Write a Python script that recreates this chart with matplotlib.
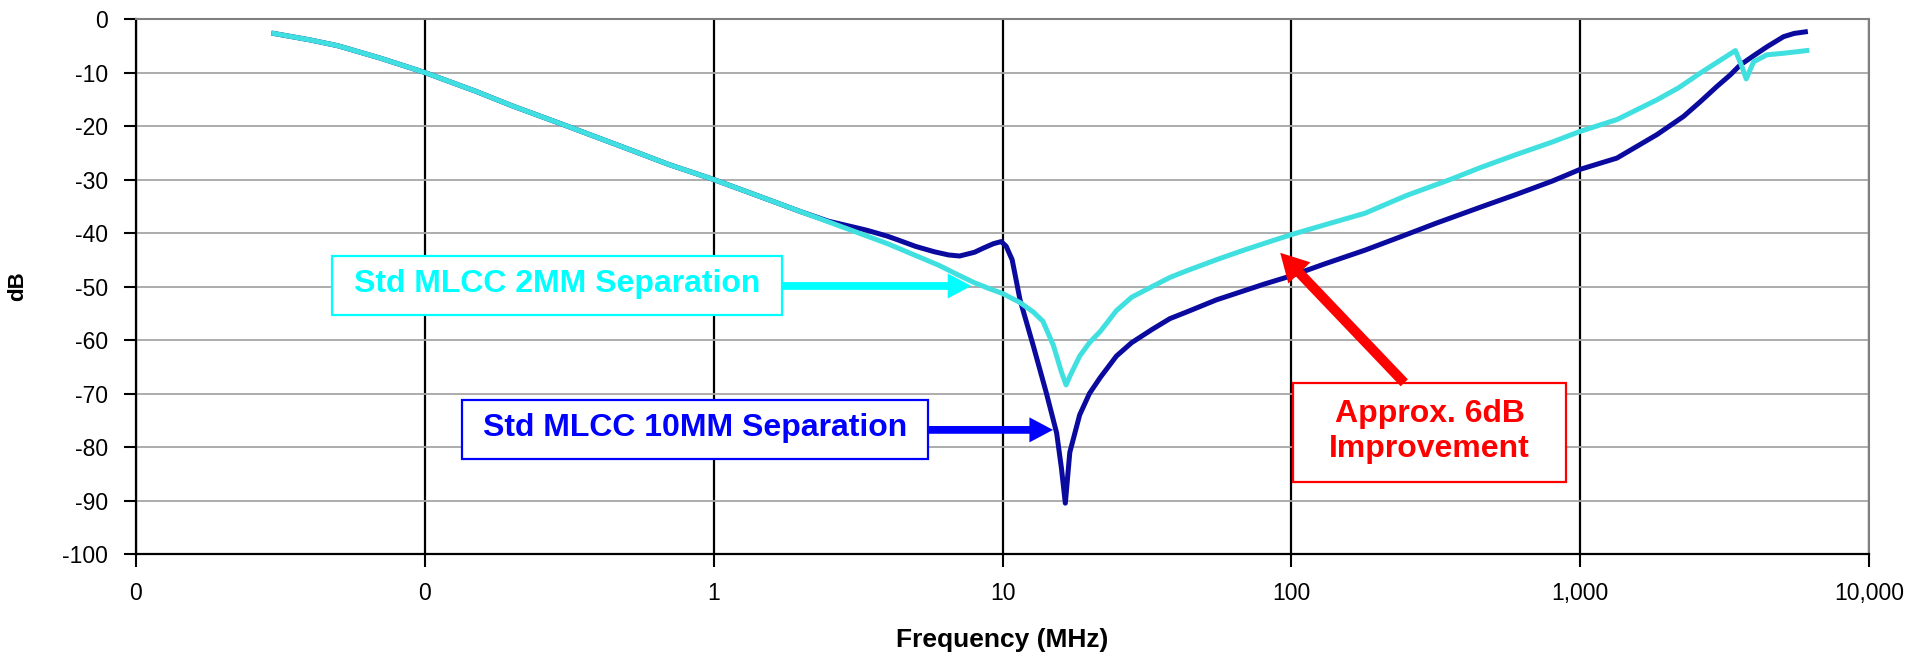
import matplotlib
matplotlib.use('Agg')
import matplotlib.pyplot as plt
from matplotlib.ticker import FixedLocator, FixedFormatter, NullLocator
from matplotlib.patches import Rectangle

plt.rcParams['font.family'] = ['Liberation Sans', 'DejaVu Sans']
plt.rcParams['axes.unicode_minus'] = False

# ---- data (frequency in MHz, attenuation in dB) ----
freq_10mm = [0.03, 0.04, 0.05, 0.07, 0.1, 0.15, 0.2, 0.3, 0.5, 0.7, 1, 1.5, 2, 2.5, 3,
             3.4, 4, 4.4, 5, 5.8, 6.5, 7.1, 8, 8.6, 9.3, 9.9, 10.3, 10.8, 11.5, 12.8,
             14.2, 15.4, 16.0, 16.5, 17.1, 18.5, 20, 21.8, 24.8, 28, 33, 38, 43.7, 55,
             66.8, 80, 100, 130, 180, 250, 316, 450, 600, 800, 1000, 1340, 1845, 2280,
             2600, 2975, 3300, 3580, 4000, 4430, 5060, 5500, 6020]
db_10mm = [-2.7, -3.9, -5.0, -7.3, -10, -13.5, -16.2, -19.7, -24.2, -27.2, -30, -33.5, -36,
           -37.8, -38.8, -39.5, -40.6, -41.4, -42.5, -43.5, -44.1, -44.3, -43.6, -42.8,
           -42.0, -41.6, -42.5, -45, -52.5, -61.2, -70, -77.4, -84, -90.5, -81, -74, -70,
           -67, -63, -60.5, -58, -56, -54.7, -52.5, -51, -49.6, -48, -45.8, -43.2, -40.3,
           -38.2, -35.2, -32.8, -30.3, -28.1, -26, -21.6, -18.2, -15.5, -12.6, -10.5,
           -8.6, -6.8, -5.2, -3.3, -2.7, -2.4]

freq_2mm = [0.03, 0.04, 0.05, 0.07, 0.1, 0.15, 0.2, 0.3, 0.5, 0.7, 1, 1.5, 2, 3, 4, 5, 6,
            7, 8, 9, 10, 11.5, 12.8, 13.8, 15, 16, 16.6, 17.2, 18.5, 20, 21.8, 24.8, 28,
            33, 38, 43.7, 55, 66.8, 80, 100, 130, 180, 250, 355, 450, 603, 800, 1000, 1340,
            1845, 2200, 2605, 3140, 3446, 3630, 3757, 3984, 4430, 5060, 6090]
db_2mm = [-2.7, -3.9, -5.0, -7.3, -10, -13.5, -16.2, -19.7, -24.2, -27.2, -30, -33.5, -36,
          -39.5, -42, -44.2, -46, -47.8, -49.3, -50.4, -51.3, -53, -54.8, -56.5, -61, -66,
          -68.4, -66.5, -63, -60.5, -58.4, -54.5, -52, -50, -48.3, -47, -45, -43.4, -42,
          -40.3, -38.5, -36.3, -33, -30, -27.8, -25.3, -23, -21, -18.8, -15.1, -12.8,
          -10.1, -7.3, -5.9, -8.9, -11.2, -8, -6.7, -6.4, -5.9]

x_ticks = [0.01, 0.1, 1, 10, 100, 1000, 10000]
x_tick_labels = ['0', '0', '1', '10', '100', '1,000', '10,000']
y_ticks = list(range(-100, 1, 10))

BLUE_LINE = '#0A0A9E'
CYAN_LINE = '#40E0E0'

fig = plt.figure(figsize=(19.15, 6.53), dpi=100)
ax = fig.add_axes([0.071, 0.1516, 0.905, 0.8193])
ax.set_xscale('log')
ax.set_xlim(0.01, 10000)
ax.set_ylim(-100, 0)

ax.plot(freq_10mm, db_10mm, color=BLUE_LINE, lw=3.6, zorder=3, solid_joinstyle='round')
ax.plot(freq_2mm, db_2mm, color=CYAN_LINE, lw=3.6, zorder=4, solid_joinstyle='round')

ax.xaxis.set_major_locator(FixedLocator(x_ticks))
ax.xaxis.set_major_formatter(FixedFormatter(x_tick_labels))
ax.xaxis.set_minor_locator(NullLocator())
ax.set_yticks(y_ticks)

ax.grid(axis='y', color='#a6a6a6', lw=1.3, zorder=1)
ax.grid(axis='x', which='major', color='black', lw=1.6, zorder=1)
ax.set_axisbelow(True)

for s in ['left', 'bottom']:
    ax.spines[s].set_color('black')
    ax.spines[s].set_linewidth(1.6)
for s in ['top', 'right']:
    ax.spines[s].set_color('#808080')
    ax.spines[s].set_linewidth(1.5)

ax.tick_params(direction='out', length=9, width=1.5, labelsize=16.5, pad=11, colors='black')

ax.set_ylabel('dB', fontsize=16, fontweight='bold')
ax.yaxis.set_label_coords(-0.0623, 0.5)
ax.set_xlabel('Frequency (MHz)', fontsize=19, fontweight='bold')
ax.xaxis.set_label_coords(0.5, -0.138)

# ---- annotations ----
def box(x0, x1, y0, y1, color):
    ax.add_patch(Rectangle((x0, y0), x1 - x0, y1 - y0, fc='white', ec=color, lw=1.6, zorder=6))

# cyan label
box(0.0478, 1.73, -55.3, -44.3, '#00FFFF')
ax.text(0.287, -49.6, 'Std MLCC 2MM Separation', ha='center', va='center', fontsize=23,
        fontweight='bold', color='#00FFFF', zorder=7)
ax.annotate('', xy=(7.8, -49.9), xytext=(1.73, -49.9), zorder=7,
            arrowprops=dict(arrowstyle='simple,head_length=0.85,head_width=0.9,tail_width=0.28',
                            mutation_scale=20, fc='#00FFFF', ec='none', shrinkA=0, shrinkB=0))

# blue label
box(0.1346, 5.52, -82.2, -71.2, '#0000FF')
ax.text(0.862, -76.5, 'Std MLCC 10MM Separation', ha='center', va='center', fontsize=23,
        fontweight='bold', color='#0000FF', zorder=7)
ax.annotate('', xy=(14.96, -76.8), xytext=(5.52, -76.8), zorder=7,
            arrowprops=dict(arrowstyle='simple,head_length=0.85,head_width=0.9,tail_width=0.28',
                            mutation_scale=20, fc='#0000FF', ec='none', shrinkA=0, shrinkB=0))

# red label
box(101.4, 895, -86.5, -68.0, '#FF0000')
ax.text(301, -77.1, 'Approx. 6dB\nImprovement', ha='center', va='center', fontsize=23,
        fontweight='bold', color='#FF0000', zorder=7, linespacing=1.2)
ax.annotate('', xy=(91.5, -43.7), xytext=(246, -68.0), zorder=7,
            arrowprops=dict(arrowstyle='simple,head_length=1.0,head_width=1.1,tail_width=0.36',
                            mutation_scale=20, fc='#FF0000', ec='none', shrinkA=0, shrinkB=0))

fig.savefig('out.png', dpi=100, facecolor='white')
